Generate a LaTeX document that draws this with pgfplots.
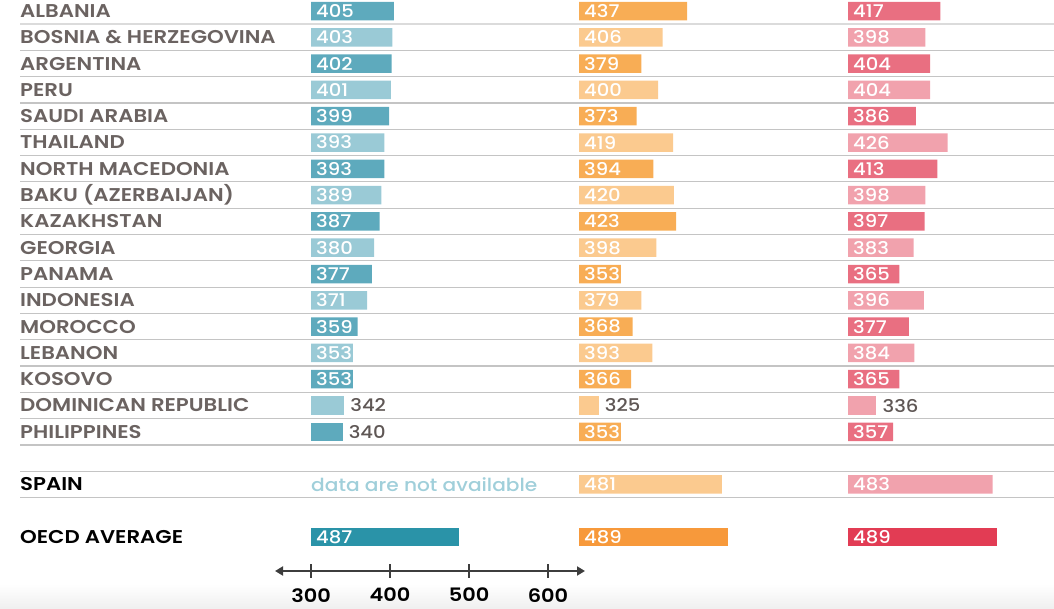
\documentclass[border=0pt]{standalone}
\usepackage{fontspec}
\usepackage{pgfplots}
\pgfplotsset{compat=1.18}
\usetikzlibrary{arrows.meta}
\setmainfont{Poppins}
\newfontfamily\psemi{Poppins SemiBold}[FakeStretch=1.15]
\newfontfamily\pbold{Poppins SemiBold}[FakeStretch=1.13]
\newfontfamily\pmed{Poppins Medium}[FakeStretch=1.12]
\definecolor{tealD}{HTML}{5EAABD}
\definecolor{tealL}{HTML}{9ACAD6}
\definecolor{tealO}{HTML}{2A93A8}
\definecolor{orD}{HTML}{F8AD55}
\definecolor{orL}{HTML}{FBCA8F}
\definecolor{orO}{HTML}{F7993B}
\definecolor{pkD}{HTML}{E96F81}
\definecolor{pkL}{HTML}{F1A2AD}
\definecolor{pkO}{HTML}{E23C54}
\definecolor{labgray}{HTML}{6B6361}
\definecolor{numgray}{HTML}{5F5755}
\definecolor{sepgray}{HTML}{C4C4C4}
\definecolor{nagray}{HTML}{A0CFDA}
\definecolor{scalegray}{HTML}{3D3D3D}
\pgfplotsset{
  /pgf/number format/assume math mode=true,
  panel/.style={x=0.79pt, y=26.3pt, y dir=reverse, xmin=300, xmax=639,
    ymin=-0.5, ymax=20.5, axis line style={draw=none}, tick style={draw=none},
    xtick=\empty, ytick=\empty, bar shift=0pt, bar width=18.5pt,
    anchor=north west, clip=true},
  inlab/.style={nodes near coords, point meta=x,
    visualization depends on={x \as \xv},
    every node near coord/.append style={anchor=west, inner sep=0pt, text=white,
      font=\pmed\fontsize{17.5}{17.5}\selectfont, xshift={((300-\xv)*0.79+5)*1pt}}},
  outlab/.style={nodes near coords, point meta=x,
    every node near coord/.append style={anchor=west, inner sep=0pt, text=numgray,
      font=\pmed\fontsize{17.5}{17.5}\selectfont, xshift=6pt}},
}
\begin{document}
\begin{tikzpicture}
\path[use as bounding box] (0pt,0pt) rectangle (1054pt,608pt);
\shade[top color=white, bottom color=black!6] (0pt,0pt) rectangle (1054pt,24pt);
% separators
\foreach \r in {0.5,1.5,...,16.5,17.5,18.5} {
  \draw[sepgray, line width=1.1pt] (20pt,{(608-(11+26.3*\r))*1pt}) -- (1054pt,{(608-(11+26.3*\r))*1pt});
}
\draw[black!14, line width=2pt] (20pt,{(608-(11+26.3*0.5))*1pt}) -- (1054pt,{(608-(11+26.3*0.5))*1pt});
% panel 1
\begin{axis}[panel, at={(311pt,610.15pt)},
  ytick={0,1,2,3,4,5,6,7,8,9,10,11,12,13,14,15,16,18,20},
  yticklabels={ALBANIA,BOSNIA \& HERZEGOVINA,ARGENTINA,PERU,SAUDI ARABIA,THAILAND,NORTH MACEDONIA,BAKU (AZERBAIJAN),KAZAKHSTAN,GEORGIA,PANAMA,INDONESIA,MOROCCO,LEBANON,KOSOVO,DOMINICAN REPUBLIC,PHILIPPINES,{\color{black}SPAIN},{\color{black}OECD AVERAGE}},
  yticklabel style={anchor=west, inner sep=0pt, xshift=-291pt, text=labgray, font=\psemi\fontsize{18.5}{18.5}\selectfont}]
\addplot[xbar, fill=tealD, draw=none, inlab] coordinates {(405,0)(402,2)(399,4)(393,6)(387,8)(377,10)(359,12)(353,14)};
\addplot[xbar, fill=tealL, draw=none, inlab] coordinates {(403,1)(401,3)(393,5)(389,7)(380,9)(371,11)(353,13)};
\addplot[xbar, fill=tealL, draw=none, outlab] coordinates {(342,15)};
\addplot[xbar, fill=tealD, draw=none, outlab] coordinates {(340,16)};
\addplot[xbar, fill=tealO, draw=none, inlab] coordinates {(487,20)};
\node[anchor=west, inner sep=0pt, text=nagray, font=\pmed\fontsize{18}{18}\selectfont] at (axis cs:300,18) {data are not available};
\end{axis}
% panel 2
\begin{axis}[panel, at={(579pt,610.15pt)}]
\addplot[xbar, fill=orD, draw=none, inlab] coordinates {(437,0)(379,2)(373,4)(394,6)(423,8)(353,10)(368,12)(366,14)(353,16)};
\addplot[xbar, fill=orL, draw=none, inlab] coordinates {(406,1)(400,3)(419,5)(420,7)(398,9)(379,11)(393,13)(481,18)};
\addplot[xbar, fill=orL, draw=none, outlab] coordinates {(325,15)};
\addplot[xbar, fill=orO, draw=none, inlab] coordinates {(489,20)};
\end{axis}
% panel 3
\begin{axis}[panel, at={(848pt,610.15pt)}]
\addplot[xbar, fill=pkD, draw=none, inlab] coordinates {(417,0)(404,2)(386,4)(413,6)(397,8)(365,10)(377,12)(365,14)(357,16)};
\addplot[xbar, fill=pkL, draw=none, inlab] coordinates {(398,1)(404,3)(426,5)(398,7)(383,9)(396,11)(384,13)(483,18)};
\addplot[xbar, fill=pkL, draw=none, outlab] coordinates {(336,15)};
\addplot[xbar, fill=pkO, draw=none, inlab] coordinates {(489,20)};
\end{axis}
% scale
\begin{axis}[at={(275pt,37pt)}, anchor=south west, x=0.79pt, y=1pt,
  xmin=254.4, xmax=646.8, ymin=0, ymax=1,
  axis x line=bottom, axis y line=none,
  x axis line style={{Triangle[length=8pt,width=9pt]}-{Triangle[length=8pt,width=9pt]}, scalegray, line width=1.8pt},
  xtick={300,400,500,600}, tick align=center, major tick length=14pt,
  tick style={scalegray, line width=1.5pt},
  xticklabel style={anchor=north, inner sep=0pt, yshift=-10pt, text=black, font=\pbold\fontsize{18.5}{18.5}\selectfont}]
\addplot[draw=none] coordinates {(300,0)(600,0)};
\end{axis}
\end{tikzpicture}
\end{document}
